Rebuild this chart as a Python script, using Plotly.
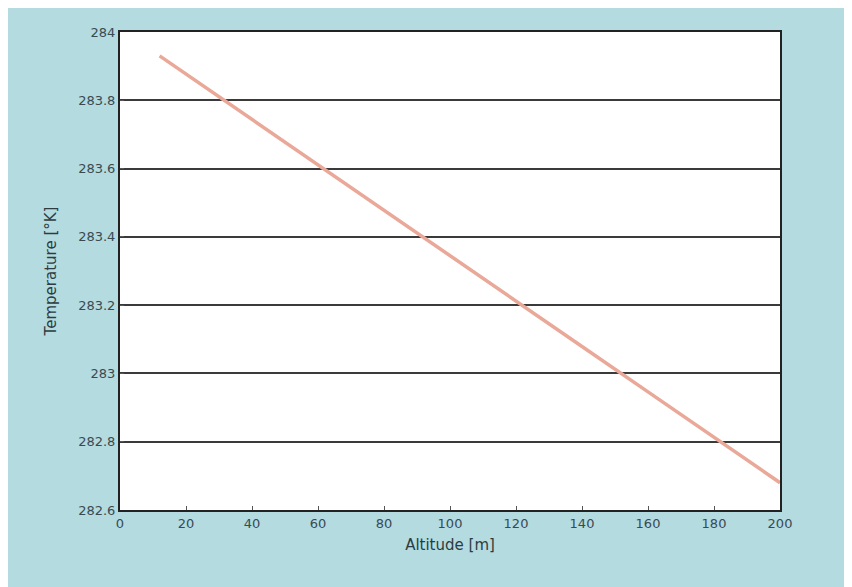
import plotly.graph_objects as go

altitude = [12, 20, 40, 60, 80, 100, 120, 140, 160, 180, 200]
temperature = [283.930, 283.877, 283.744, 283.611, 283.478, 283.345, 283.212, 283.079, 282.946, 282.813, 282.680]

x_ticks = [0, 20, 40, 60, 80, 100, 120, 140, 160, 180, 200]
y_ticks = [282.6, 282.8, 283.0, 283.2, 283.4, 283.6, 283.8, 284.0]
y_labels = ["282.6", "282.8", "283", "283.2", "283.4", "283.6", "283.8", "284"]

fig = go.Figure()
fig.add_trace(go.Scatter(
    x=altitude, y=temperature, mode="lines",
    line=dict(color="#eaa898", width=3.5),
    showlegend=False,
))

fig.update_layout(
    width=844, height=579,
    paper_bgcolor="#b3dbe0",
    plot_bgcolor="#ffffff",
    margin=dict(l=112, r=72, t=24, b=77),
    font=dict(family="DejaVu Sans", color="#3a4a50", size=12),
    xaxis=dict(
        range=[0, 200], tickvals=x_ticks,
        showgrid=False, zeroline=False,
        showline=True, linecolor="#222222", linewidth=2, mirror=True,
        ticks="inside", ticklen=4, tickcolor="#555555",
        title=dict(text="Altitude [m]", font=dict(size=15, color="#2d3c42"), standoff=10),
        tickfont=dict(size=13, color="#3a4a50"),
    ),
    yaxis=dict(
        range=[282.6, 284.0], tickvals=y_ticks, ticktext=y_labels,
        showgrid=True, gridcolor="#3a3a3a", gridwidth=1.5, zeroline=False,
        showline=True, linecolor="#222222", linewidth=2, mirror=True,
        ticks="inside", ticklen=4, tickcolor="#555555",
        title=dict(text="Temperature [°K]", font=dict(size=15, color="#2d3c42"), standoff=18),
        tickfont=dict(size=13, color="#3a4a50"),
    ),
)

fig.write_html("out.html")
